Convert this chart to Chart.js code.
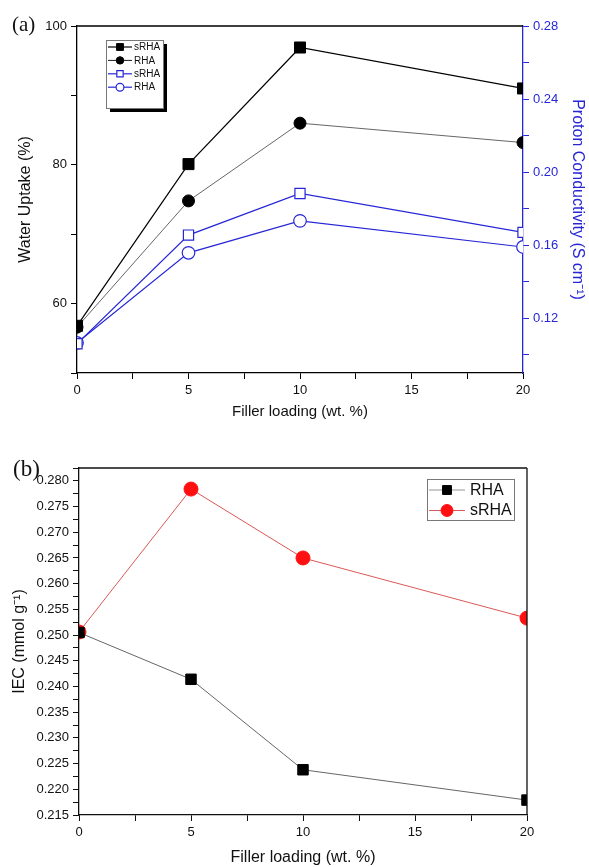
<!DOCTYPE html>
<html>
<head>
<meta charset="utf-8">
<title>Water uptake, conductivity and IEC vs filler loading</title>
<script src="https://cdn.jsdelivr.net/npm/chart.js@4.4.0/dist/chart.umd.min.js"></script>
<style>
    body { margin: 0; background: #fff; width: 589px; height: 867px; position: relative; overflow: hidden; }
    canvas { position: absolute; left: 0; }
    .tag { position: absolute; font-family: 'Liberation Serif', 'DejaVu Serif', serif; color: #111; line-height: 1; }
</style>
</head>
<body>
<canvas id="chartA" width="589" height="430" style="top:0"></canvas>
<canvas id="chartB" width="589" height="437" style="top:430px"></canvas>
<div class="tag" style="left:12px;top:14px;font-size:21px">(a)</div>
<div class="tag" style="left:13px;top:457px;font-size:23px">(b)</div>
<script>
// Filler loading (wt. %)
const loading = [0, 5, 10, 20];

// (a) water uptake (%) - left axis
const uptakeSRHA = [56.8, 80.1, 96.9, 91.0];
const uptakeRHA = [56.6, 74.8, 86.0, 83.2];

// (a) proton conductivity (S cm-1) - right axis
const condSRHA = [0.106, 0.1655, 0.1883, 0.167];
const condRHA = [0.1065, 0.1558, 0.1733, 0.159];

// (b) IEC (mmol g-1)
const iecRHA = [0.2505, 0.2414, 0.2238, 0.2179];
const iecSRHA = [0.2506, 0.2784, 0.2650, 0.2533];

const BLUE = '#2626d6';
const RED = '#ff1010';

Chart.defaults.font.family = "'Liberation Sans', Arial, sans-serif";
Chart.defaults.color = '#111';
Chart.defaults.animation = false;

const toPoints = (ys) => loading.map((x, i) => ({ x: x, y: ys[i] }));
const isMultiple = (v, step) => Math.abs(v / step - Math.round(v / step)) < 1e-6;

// top / right frame lines like in Origin
const framePlugin = {
    id: 'frame',
    afterDatasetsDraw(chart, args, opts) {
        const { ctx, chartArea: a } = chart;
        ctx.save();
        ctx.strokeStyle = opts.color || '#000';
        ctx.lineWidth = opts.width || 1.3;
        ctx.beginPath();
        ctx.moveTo(a.left, a.top);
        ctx.lineTo(a.right, a.top);
        if (opts.right) {
            ctx.moveTo(a.right, a.top);
            ctx.lineTo(a.right, a.bottom);
        }
        ctx.stroke();
        ctx.restore();
    }
};

function drawMarker(ctx, style, x, y, r, fill, stroke, lw) {
    ctx.beginPath();
    if (style === 'rect') {
        const s = Math.SQRT1_2 * r;
        ctx.rect(x - s, y - s, 2 * s, 2 * s);
    } else {
        ctx.arc(x, y, r, 0, Math.PI * 2);
    }
    ctx.fillStyle = fill;
    ctx.fill();
    ctx.strokeStyle = stroke;
    ctx.lineWidth = lw;
    ctx.stroke();
}

// boxed legend, optional drop shadow
const boxLegend = {
    id: 'boxLegend',
    afterDraw(chart, args, o) {
        const ctx = chart.ctx;
        ctx.save();
        if (o.shadow) {
            ctx.fillStyle = '#000';
            ctx.fillRect(o.x + o.shadow, o.y + o.shadow, o.w, o.h);
        }
        ctx.fillStyle = '#fff';
        ctx.fillRect(o.x, o.y, o.w, o.h);
        ctx.strokeStyle = o.borderColor;
        ctx.lineWidth = 1;
        ctx.strokeRect(o.x + 0.5, o.y + 0.5, o.w, o.h);
        ctx.font = o.font;
        ctx.textBaseline = 'middle';
        chart.data.datasets.forEach((ds, i) => {
            const cy = o.y + o.firstRow + i * o.rowH;
            const lx = o.x + o.pad;
            ctx.strokeStyle = o.lineColors ? o.lineColors[i] : ds.borderColor;
            ctx.lineWidth = ds.borderWidth;
            ctx.beginPath();
            ctx.moveTo(lx, cy);
            ctx.lineTo(lx + o.lineLen, cy);
            ctx.stroke();
            drawMarker(ctx, ds.pointStyle, lx + o.lineLen / 2, cy, ds.pointRadius * o.markerScale,
                ds.pointBackgroundColor, ds.pointBorderColor, ds.pointBorderWidth);
            ctx.fillStyle = o.textColor;
            ctx.fillText(ds.label, lx + o.lineLen + o.gap, cy + 0.5);
        });
        ctx.restore();
    }
};

const tickGrid = (color) => ({
    drawOnChartArea: false,
    drawTicks: true,
    tickLength: 6,
    tickColor: color,
    tickWidth: 1
});

// ---------- (a) ----------
new Chart(document.getElementById('chartA'), {
    type: 'line',
    data: {
        datasets: [
            {
                label: 'sRHA', data: toPoints(uptakeSRHA), yAxisID: 'y',
                borderColor: '#000', borderWidth: 1.2,
                pointStyle: 'rect', pointRadius: 7.8, pointBackgroundColor: '#000',
                pointBorderColor: '#000', pointBorderWidth: 1
            },
            {
                label: 'RHA', data: toPoints(uptakeRHA), yAxisID: 'y',
                borderColor: '#555', borderWidth: 0.9,
                pointStyle: 'circle', pointRadius: 6, pointBackgroundColor: '#000',
                pointBorderColor: '#000', pointBorderWidth: 1
            },
            {
                label: 'sRHA', data: toPoints(condSRHA), yAxisID: 'y1',
                borderColor: BLUE, borderWidth: 1.2,
                pointStyle: 'rect', pointRadius: 7.2, pointBackgroundColor: '#fff',
                pointBorderColor: BLUE, pointBorderWidth: 1.2
            },
            {
                label: 'RHA', data: toPoints(condRHA), yAxisID: 'y1',
                borderColor: BLUE, borderWidth: 1.2,
                pointStyle: 'circle', pointRadius: 6.3, pointBackgroundColor: '#fff',
                pointBorderColor: BLUE, pointBorderWidth: 1.2
            }
        ]
    },
    options: {
        responsive: false,
        layout: { padding: { top: 26, left: 0, right: 0, bottom: 0 } },
        plugins: {
            legend: { display: false },
            tooltip: { enabled: false },
            frame: { color: '#000', width: 1.3, right: false },
            boxLegend: {
                x: 106, y: 40, w: 57, h: 68, shadow: 4, borderColor: '#777',
                firstRow: 7, rowH: 13.4, pad: 2, lineLen: 24, gap: 2,
                markerScale: 0.62, font: "10px 'Liberation Sans', Arial, sans-serif", textColor: '#111',
                lineColors: ['#000', '#000', BLUE, BLUE]
            }
        },
        scales: {
            x: {
                type: 'linear', position: 'bottom', min: 0, max: 20,
                border: { color: '#000', width: 1.3 },
                grid: tickGrid('#000'),
                ticks: {
                    stepSize: 2.5, autoSkip: false, maxRotation: 0, padding: 4,
                    font: { size: 13 }, color: '#111',
                    callback: (v) => isMultiple(v, 5) ? v : ''
                },
                title: {
                    display: true, text: 'Filler loading (wt. %)',
                    font: { size: 15 }, color: '#111', padding: { top: 0, bottom: 9 }
                },
                afterFit: (s) => { s.height = 57; }
            },
            y: {
                position: 'left', min: 50, max: 100,
                border: { color: '#000', width: 1.3 },
                grid: tickGrid('#000'),
                ticks: {
                    stepSize: 10, autoSkip: false, padding: 4,
                    font: { size: 13 }, color: '#111',
                    callback: (v) => isMultiple(v, 20) ? v : ''
                },
                title: {
                    display: true, text: 'Water Uptake (%)',
                    font: { size: 16 }, color: '#111', padding: { top: 16, bottom: 0 }
                },
                afterFit: (s) => { s.width = 77; }
            },
            y1: {
                position: 'right', min: 0.09, max: 0.28,
                border: { color: BLUE, width: 1.3 },
                grid: tickGrid(BLUE),
                ticks: {
                    stepSize: 0.02, includeBounds: false, autoSkip: false, padding: 4,
                    font: { size: 13 }, color: BLUE,
                    callback: (v) => isMultiple(v, 0.04) ? v.toFixed(2) : ''
                },
                title: {
                    display: true, text: 'Proton Conductivity (S cm\u207B\u00B9)',
                    font: { size: 16 }, color: BLUE, padding: { top: 2, bottom: 0 }
                },
                afterFit: (s) => { s.width = 66; }
            }
        }
    },
    plugins: [framePlugin, boxLegend]
});

// ---------- (b) ----------
new Chart(document.getElementById('chartB'), {
    type: 'line',
    data: {
        datasets: [
            {
                label: 'RHA', data: toPoints(iecRHA),
                borderColor: '#555', borderWidth: 0.9,
                pointStyle: 'rect', pointRadius: 7.4, pointBackgroundColor: '#000',
                pointBorderColor: '#000', pointBorderWidth: 1
            },
            {
                label: 'sRHA', data: toPoints(iecSRHA),
                borderColor: '#d64545', borderWidth: 0.9,
                pointStyle: 'circle', pointRadius: 7, pointBackgroundColor: RED,
                pointBorderColor: RED, pointBorderWidth: 1
            }
        ]
    },
    options: {
        responsive: false,
        layout: { padding: { top: 38, left: 0, right: 62, bottom: 0 } },
        plugins: {
            legend: { display: false },
            tooltip: { enabled: false },
            frame: { color: '#111', width: 1.3, right: true },
            boxLegend: {
                x: 427, y: 49, w: 87, h: 41, shadow: 0, borderColor: '#777',
                firstRow: 11, rowH: 20.5, pad: 2, lineLen: 36, gap: 5,
                markerScale: 0.85, font: "16px 'Liberation Sans', Arial, sans-serif", textColor: '#111',
                lineColors: ['#888', '#d64545']
            }
        },
        scales: {
            x: {
                type: 'linear', position: 'bottom', min: 0, max: 20,
                border: { color: '#111', width: 1.3 },
                grid: tickGrid('#111'),
                ticks: {
                    stepSize: 2.5, autoSkip: false, maxRotation: 0, padding: 4,
                    font: { size: 13 }, color: '#111',
                    callback: (v) => isMultiple(v, 5) ? v : ''
                },
                title: {
                    display: true, text: 'Filler loading (wt. %)',
                    font: { size: 16 }, color: '#111', padding: { top: 0, bottom: 0 }
                },
                afterFit: (s) => { s.height = 52; }
            },
            y: {
                position: 'left', min: 0.215, max: 0.2825,
                border: { color: '#111', width: 1.3 },
                grid: tickGrid('#111'),
                ticks: {
                    stepSize: 0.0025, autoSkip: false, padding: 4,
                    font: { size: 13 }, color: '#111',
                    callback: (v) => isMultiple(v, 0.005) ? v.toFixed(3) : ''
                },
                title: {
                    display: true, text: 'IEC (mmol g\u207B\u00B9)',
                    font: { size: 16 }, color: '#111', padding: { top: 10, bottom: 0 }
                },
                afterFit: (s) => { s.width = 79; }
            }
        }
    },
    plugins: [framePlugin, boxLegend]
});
</script>
</body>
</html>
